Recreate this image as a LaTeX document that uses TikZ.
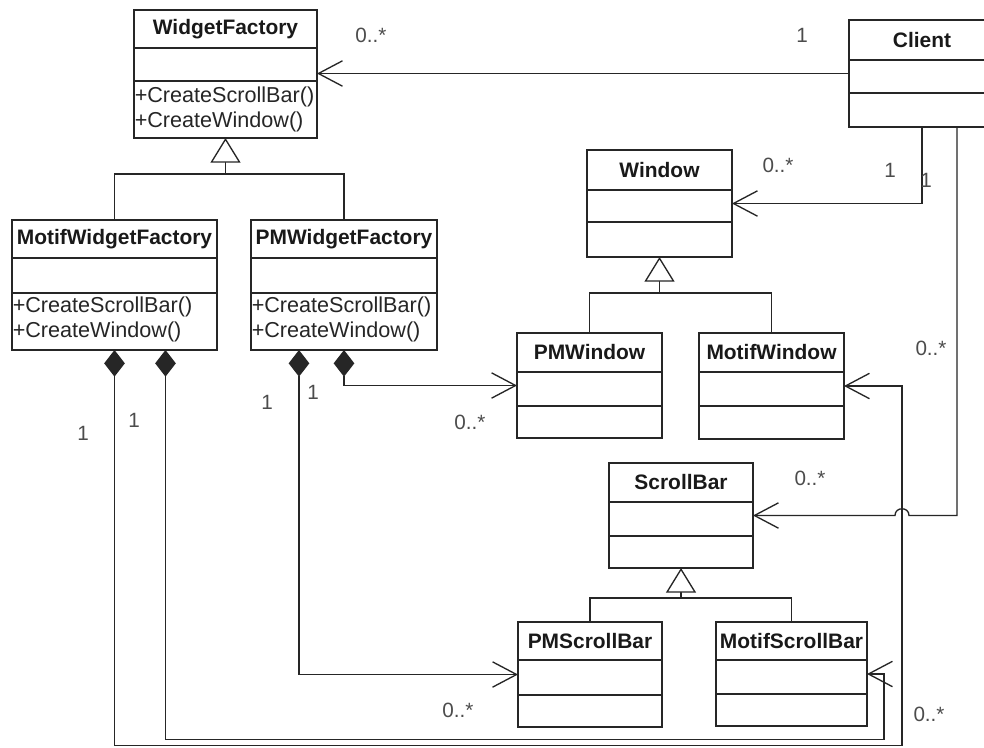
\documentclass[tikz,border=0pt]{standalone}
\usepackage{fontspec}
\setmainfont{Liberation Sans}
\usetikzlibrary{arrows.meta,fit}
\newcommand{\umlclass}[8]{%
  \coordinate (#1-nw) at (#2,#3);
  \coordinate (#1-se) at (#4,#5);
  \node[classbox, fit=(#1-nw)(#1-se)] (#1) {};
  \draw[boxline] (#2,#6) -- (#4,#6);
  \draw[boxline] (#2,#7) -- (#4,#7);
  \node[ttl] (#1-t) at ({(#2+#4)/2},{(#3+#6)/2}) {#8};
}
\tikzset{
  classbox/.style={draw=black!85, line width=1.3pt, inner sep=0pt, outer sep=0pt},
  boxline/.style={draw=black!85, line width=1.3pt},
  conn/.style={draw=black!85, line width=1pt},
  ttl/.style={font=\bfseries\fontsize{15.7}{18}\selectfont, inner sep=0pt, text=black!90},
  meth/.style={font=\fontsize{16.2}{18}\selectfont, inner sep=0pt, anchor=west, text=black!85},
  mult/.style={font=\fontsize{15.5}{18}\selectfont, inner sep=0pt, text=black!70},
  nav/.style={conn, -{Straight Barb[length=18pt, width=19pt]}},
  compo/.style={conn, {Diamond[length=20pt, width=15.5pt]}-{Straight Barb[length=18pt, width=19pt]}},
  gen/.style={conn, -{Triangle[open, fill=white, length=18.5pt, width=22.5pt]}},
}
\begin{document}
\begin{tikzpicture}[x=0.75pt, y=-0.75pt]
\useasboundingbox (0,0) rectangle (984,747);
\fill[white] (0,0) rectangle (984,747);

% classes
\umlclass{WF}{134}{10}{317}{138}{48}{81}{WidgetFactory}
\node[meth] (WF-m1) at (134.5,97) {+CreateScrollBar()};
\node[meth] (WF-m2) at (134.5,122) {+CreateWindow()};

\umlclass{MWF}{12}{220}{217}{350}{258}{293}{MotifWidgetFactory}
\node[meth] (MWF-m1) at (12.5,307) {+CreateScrollBar()};
\node[meth] (MWF-m2) at (12.5,332) {+CreateWindow()};

\umlclass{PMWF}{251}{220}{437}{350}{258}{293}{PMWidgetFactory}
\node[meth] (PMWF-m1) at (251.5,307) {+CreateScrollBar()};
\node[meth] (PMWF-m2) at (251.5,332) {+CreateWindow()};

\umlclass{Client}{849}{20}{995}{127}{60}{93}{Client}

\umlclass{Window}{587}{150}{732}{257}{190}{222}{Window}
\umlclass{PMWin}{517}{333}{662}{438}{372}{406}{PMWindow}
\umlclass{MWin}{699}{333}{844}{439}{372}{406}{MotifWindow}

\umlclass{SB}{609}{463}{753}{568}{502}{536}{ScrollBar}
\umlclass{PMSB}{518}{622}{662}{727}{660}{695}{PMScrollBar}
\umlclass{MSB}{716}{622}{867}{726}{660}{694}{MotifScrollBar}

% generalizations
\coordinate (g1) at (225.5,174);
\draw[conn] (MWF.north) |- (g1) -| (PMWF.north);
\draw[gen] (g1) -- (WF.south);
\coordinate (g2) at (659.5,293);
\draw[conn] (PMWin.north) |- (g2) -| (MWin.north);
\draw[gen] (g2) -- (Window.south);
\coordinate (g3) at (681,598);
\draw[conn] (PMSB.north) |- (g3) -| (MSB.north);
\draw[gen] (g3) -- (SB.south);

% associations from Client
\draw[nav] (Client.west) -- (Client.west -| WF.east);
\draw[nav] (Client.south) |- (Window.east);
\coordinate (jR) at (909,515.5);
\coordinate (jL) at (895,515.5);
\draw[nav] ([shift={(35,0)}]Client.south) |- (jR) .. controls +(0,-9) and +(0,-9) .. (jL) -- (SB.east);

% compositions
\draw[compo] (PMWF.south) |- (PMWin.west);
\draw[compo] ([shift={(-45,0)}]PMWF.south) |- (PMSB.west);
\coordinate (b1) at (902,745.5);
\draw[compo] (MWF.south) |- (b1) |- (MWin.east);
\coordinate (b2) at (884,739.5);
\draw[compo] ([shift={(51,0)}]MWF.south) |- (b2) |- (MSB.east);

% multiplicities
\node[mult] (l1) at (371,35) {0..*};
\node[mult] (l2) at (802,35) {1};
\node[mult] (l3) at (778,165) {0..*};
\node[mult] (l4) at (890,170) {1};
\node[mult] (l5) at (926,180) {1};
\node[mult] (l6) at (931,348) {0..*};
\node[mult] (l7) at (810,478) {0..*};
\node[mult] (l8) at (929,714) {0..*};
\node[mult] (l9) at (83,433) {1};
\node[mult] (l10) at (134,420) {1};
\node[mult] (l11) at (267,402) {1};
\node[mult] (l12) at (313,392) {1};
\node[mult] (l13) at (470,422) {0..*};
\node[mult] (l14) at (458,710) {0..*};
\end{tikzpicture}
\end{document}
